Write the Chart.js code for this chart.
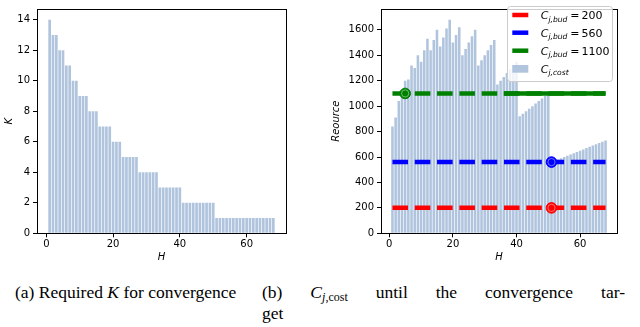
<!DOCTYPE html>
<html>
<head>
<meta charset="utf-8">
<script src="https://cdn.jsdelivr.net/npm/chart.js@4"></script>
<style>
  body { margin: 0; background: #fff; width: 640px; height: 327px; position: relative; overflow: hidden; }
  canvas { position: absolute; top: 0; }
  #left { left: 0; }
  #right { left: 320px; }
  .cap { position: absolute; font-family: 'Liberation Serif', serif; font-size: 17.5px; line-height: 21px; color: #000; }
  .cap sub { font-size: 12px; vertical-align: -3px; line-height: 0; }
</style>
</head>
<body>
<canvas id="left" width="320" height="265"></canvas>
<canvas id="right" width="320" height="265"></canvas>
<div class="cap" style="left:15px; top:282px; white-space:nowrap;">(a) Required <i>K</i> for convergence</div>
<div class="cap" style="left:262px; top:282px; width:363px; text-align:justify; text-align-last:justify;">(b) <i>C</i><sub><i>j</i>,cost</sub> until the convergence tar-</div>
<div class="cap" style="left:262px; top:303px;">get</div>
<script>
// H values (x categories)
const hValues = [1, 2, 3, 4, 5, 6, 7, 8, 9, 10, 11, 12, 13, 14, 15, 16, 17, 18, 19, 20,
  21, 22, 23, 24, 25, 26, 27, 28, 29, 30, 31, 32, 33, 34, 35, 36, 37, 38, 39, 40,
  41, 42, 43, 44, 45, 46, 47, 48, 49, 50, 51, 52, 53, 54, 55, 56, 57, 58, 59, 60,
  61, 62, 63, 64, 65, 66, 67, 68];

// (a) required K
const kValues = [14, 13, 13, 12, 12, 11, 11, 10, 10, 9, 9, 9, 8, 8, 8, 7, 7, 7, 7, 6,
  6, 6, 5, 5, 5, 5, 5, 4, 4, 4, 4, 4, 4, 3, 3, 3, 3, 3, 3, 3,
  2, 2, 2, 2, 2, 2, 2, 2, 2, 2, 1, 1, 1, 1, 1, 1, 1, 1, 1, 1,
  1, 1, 1, 1, 1, 1, 1, 1];

// (b) C_j,cost
const costValues = [840, 910, 1040, 1080, 1200, 1210, 1320, 1300, 1400, 1350, 1440, 1530, 1440, 1520, 1600, 1470, 1540, 1610, 1680, 1500,
  1560, 1620, 1400, 1450, 1500, 1550, 1600, 1320, 1360, 1400, 1440, 1480, 1520, 1170, 1200, 1230, 1260, 1290, 1320, 1350,
  920, 940, 960, 980, 1000, 1020, 1040, 1060, 1080, 1100, 560, 570, 580, 590, 600, 610, 620, 630, 640, 650,
  660, 670, 680, 690, 700, 710, 720, 730];

// budgets and where each one is reached
const budgetValues = [200, 560, 1100];
const markerH = [51, 51, 5];
const greenSolidFrom = 36;

// tick labels
const xTicks = [0, 20, 40, 60];
const kTicks = [0, 2, 4, 6, 8, 10, 12, 14];
const costTicks = [0, 200, 400, 600, 800, 1000, 1200, 1400, 1600];

const barColor = '#b0c4de';
const lineColors = ['#ff0000', '#0000ff', '#008000'];
const tickFont = { family: 'DejaVu Sans', size: 10 };
const titleFont = { family: 'DejaVu Sans', size: 10, style: 'italic' };

// matplotlib style box round the plot
const framePlugin = {
  id: 'frame',
  afterDraw(chart) {
    const { ctx, chartArea: a } = chart;
    ctx.save();
    ctx.strokeStyle = '#000';
    ctx.lineWidth = 1;
    ctx.strokeRect(Math.round(a.left) + 0.5, Math.round(a.top) + 0.5,
      Math.round(a.right - a.left), Math.round(a.bottom - a.top));
    ctx.restore();
  }
};

function xScale(min, max, height) {
  return {
    type: 'linear', min: min, max: max, offset: false,
    grid: { display: true, drawOnChartArea: false, drawTicks: true, tickLength: 4, color: '#000', offset: false },
    border: { display: false },
    ticks: { font: tickFont, color: '#000', padding: 1, maxRotation: 0, callback: v => String(v) },
    title: { display: true, text: 'H', font: titleFont, color: '#000', padding: { top: 0, bottom: 1.3 } },
    afterBuildTicks: s => { s.ticks = xTicks.map(v => ({ value: v })); },
    afterFit: s => { s.height = height; }
  };
}

function yScale(max, ticks, title, titlePad, width) {
  return {
    min: 0, max: max,
    grid: { display: true, drawOnChartArea: false, drawTicks: true, tickLength: 4, color: '#000' },
    border: { display: false },
    ticks: { font: tickFont, color: '#000', padding: 3, callback: v => String(v) },
    title: { display: true, text: title, font: titleFont, color: '#000', padding: { top: titlePad, bottom: 0 } },
    afterBuildTicks: s => { s.ticks = ticks.map(v => ({ value: v })); },
    afterFit: s => { s.width = width; }
  };
}

// left chart: required K
new Chart(document.getElementById('left'), {
  type: 'bar',
  data: {
    datasets: [{
      data: hValues.map((h, i) => ({ x: h, y: kValues[i] })),
      backgroundColor: barColor,
      barPercentage: 0.8,
      categoryPercentage: 1
    }]
  },
  options: {
    responsive: false,
    animation: false,
    layout: { padding: { top: 1, right: 34, left: 0, bottom: 0 } },
    plugins: { legend: { display: false }, tooltip: { enabled: false } },
    scales: {
      x: xScale(-2.79, 71.79, 31.7),
      y: yScale(14.7, kTicks, 'K', 3, 37)
    }
  },
  plugins: [framePlugin]
});

// legend with subscripts, drawn by hand
function drawMath(ctx, x, y, sub, rest) {
  ctx.fillStyle = '#000';
  ctx.textAlign = 'left';
  ctx.textBaseline = 'alphabetic';
  ctx.font = 'italic 11px "DejaVu Sans"';
  ctx.fillText('C', x, y);
  let cx = x + ctx.measureText('C').width;
  ctx.font = 'italic 7.6px "DejaVu Sans"';
  ctx.fillText(sub, cx, y + 2.4);
  cx += ctx.measureText(sub).width;
  if (rest !== null) {
    ctx.font = '11px "DejaVu Sans"';
    ctx.fillText('=', cx + 3, y);
    cx += 3 + ctx.measureText('=').width + 2;
    ctx.fillText(rest, cx, y);
  }
}

const legendPlugin = {
  id: 'mathLegend',
  afterDraw(chart) {
    const ctx = chart.ctx;
    ctx.save();
    ctx.beginPath();
    ctx.roundRect(187.5, 6.5, 105, 75, 3);
    ctx.fillStyle = 'rgba(255,255,255,0.8)';
    ctx.fill();
    ctx.strokeStyle = '#cccccc';
    ctx.lineWidth = 1;
    ctx.stroke();
    const rows = [15, 32.7, 50.7];
    budgetValues.forEach((b, i) => {
      ctx.strokeStyle = lineColors[i];
      ctx.lineWidth = 4.5;
      ctx.beginPath();
      ctx.moveTo(192.3, rows[i]);
      ctx.lineTo(208.3, rows[i]);
      ctx.stroke();
      drawMath(ctx, 220.7, rows[i] + 4.3, 'j,bud', String(b));
    });
    ctx.fillStyle = barColor;
    ctx.fillRect(192.3, 65, 16, 7.7);
    drawMath(ctx, 220.7, 72.5, 'j,cost', null);
    ctx.restore();
  }
};

const firstH = hValues[0];
const lastH = hValues[hValues.length - 1];

const budgetLines = budgetValues.map((b, i) => ({
  type: 'line',
  data: [{ x: firstH, y: b }, { x: lastH, y: b }],
  borderColor: lineColors[i],
  borderWidth: 4.5,
  borderDash: [15.6, 6.7],
  pointRadius: 0,
  order: 2
}));

const greenSolid = {
  type: 'line',
  data: [{ x: greenSolidFrom, y: budgetValues[2] }, { x: lastH, y: budgetValues[2] }],
  borderColor: lineColors[2],
  borderWidth: 4.5,
  pointRadius: 0,
  order: 2
};

const markers = budgetValues.map((b, i) => ({
  type: 'line',
  showLine: false,
  data: [{ x: markerH[i], y: b }],
  pointRadius: 5.3,
  pointBackgroundColor: lineColors[i],
  pointBorderColor: lineColors[i],
  pointBorderWidth: 1,
  order: 1
}));

const rings = budgetValues.map((b, i) => ({
  type: 'line',
  showLine: false,
  data: [{ x: markerH[i], y: b }],
  pointRadius: 3.6,
  pointBackgroundColor: 'rgba(0,0,0,0)',
  pointBorderColor: 'rgba(255,255,255,0.55)',
  pointBorderWidth: 0.8,
  order: 0
}));

// right chart: cost against budgets
new Chart(document.getElementById('right'), {
  type: 'bar',
  data: {
    datasets: [{
      type: 'bar',
      data: hValues.map((h, i) => ({ x: h, y: costValues[i] })),
      backgroundColor: barColor,
      barPercentage: 0.8,
      categoryPercentage: 1,
      order: 10
    }].concat(budgetLines, [greenSolid], markers, rings)
  },
  options: {
    responsive: false,
    animation: false,
    layout: { padding: { top: 1, right: 23, left: 0, bottom: 0 } },
    plugins: { legend: { display: false }, tooltip: { enabled: false } },
    scales: {
      x: xScale(-2.6, 71.6, 31.7),
      y: yScale(1764, costTicks, 'Reource', 10.7, 61)
    }
  },
  plugins: [framePlugin, legendPlugin]
});
</script>
</body>
</html>
